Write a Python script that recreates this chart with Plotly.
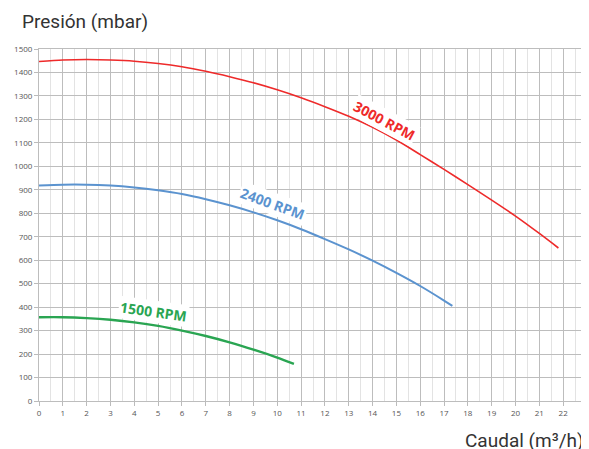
import plotly.graph_objects as go

# caudal (m3/h) y presión (mbar) por velocidad
x_3000 = [0, 1, 2, 3, 4, 5, 6, 7, 8, 9, 10, 11, 12, 13, 14, 15, 16, 17, 18, 19, 20, 21, 21.8]
y_3000 = [1447, 1453, 1455, 1453, 1448, 1438, 1424, 1405, 1382, 1356, 1326, 1292, 1254,
          1213, 1166, 1112, 1050, 987, 922, 856, 788, 714, 652]

x_2400 = [0, 1, 2, 3, 4, 5, 6, 7, 8, 9, 10, 11, 12, 13, 14, 15, 16, 17, 17.35]
y_2400 = [918, 922, 922, 918, 910, 898, 882, 860, 834, 804, 770, 732, 690, 646, 598, 546,
          490, 428, 405]

x_1500 = [0, 1, 2, 3, 4, 5, 6, 7, 8, 9, 10, 10.7]
y_1500 = [357, 357, 353, 346, 335, 320, 300, 277, 250, 219, 185, 158]

series = [
    ("3000 RPM", x_3000, y_3000, "#ee2a2a", 1.6),
    ("2400 RPM", x_2400, y_2400, "#5b93cf", 2.0),
    ("1500 RPM", x_1500, y_1500, "#2aa552", 2.4),
]

# posición y ángulo de las etiquetas de curva
labels = [
    ("3000 RPM", 14.5, 1195, 28, "#ee2a2a"),
    ("2400 RPM", 9.8, 840, 20, "#5b93cf"),
    ("1500 RPM", 4.8, 380, 8, "#2aa552"),
]

x_ticks = list(range(0, 24))
y_ticks = list(range(0, 1600, 100))

fig = go.Figure()
for name, xs, ys, color, w in series:
    fig.add_trace(go.Scatter(
        x=xs, y=ys, mode="lines", name=name,
        line=dict(color=color, width=w, shape="spline", smoothing=0.8),
        hoverinfo="skip",
    ))

for text, lx, ly, ang, color in labels:
    fig.add_annotation(
        x=lx, y=ly, text=f"<b>{text}</b>", showarrow=False, textangle=ang,
        font=dict(family="Open Sans", size=14, color=color),
        bgcolor="white",
    )

fig.add_annotation(
    xref="paper", yref="paper", x=-0.035, y=1.077, xanchor="left", yanchor="middle",
    text="Presión (mbar)", showarrow=False,
    font=dict(family="Roboto", size=19, color="#333333"),
)
fig.add_annotation(
    xref="paper", yref="paper", x=0.998, y=-0.111, xanchor="right", yanchor="middle",
    text="Caudal (m³/h)", showarrow=False,
    font=dict(family="Roboto", size=19, color="#333333"),
)

# the page body has an 8px margin, so the figure is sized to fit inside it
fig.update_layout(
    width=581, height=441,
    paper_bgcolor="white", plot_bgcolor="white",
    margin=dict(l=31, r=2, t=41, b=48),
    showlegend=False,
    font=dict(family="Open Sans", size=8, color="#555555"),
    xaxis=dict(
        range=[0, 23], tickvals=x_ticks, ticks="outside", ticklen=4,
        tickcolor="#bbbbbb", showgrid=True, gridcolor="#bdbdbd", gridwidth=1,
        minor=dict(dtick=0.5, showgrid=True, gridcolor="#e3e3e3", gridwidth=1),
        showline=True, linecolor="#bdbdbd", mirror=True, zeroline=False,
        fixedrange=True, automargin=False, ticklabeloverflow="allow",
    ),
    yaxis=dict(
        range=[0, 1500], tickvals=y_ticks, ticks="outside", ticklen=4,
        tickcolor="#bbbbbb", showgrid=True, gridcolor="#bdbdbd", gridwidth=1,
        showline=True, linecolor="#bdbdbd", mirror=True, zeroline=False,
        fixedrange=True, automargin=False,
    ),
)

fig.write_html("out.html")
